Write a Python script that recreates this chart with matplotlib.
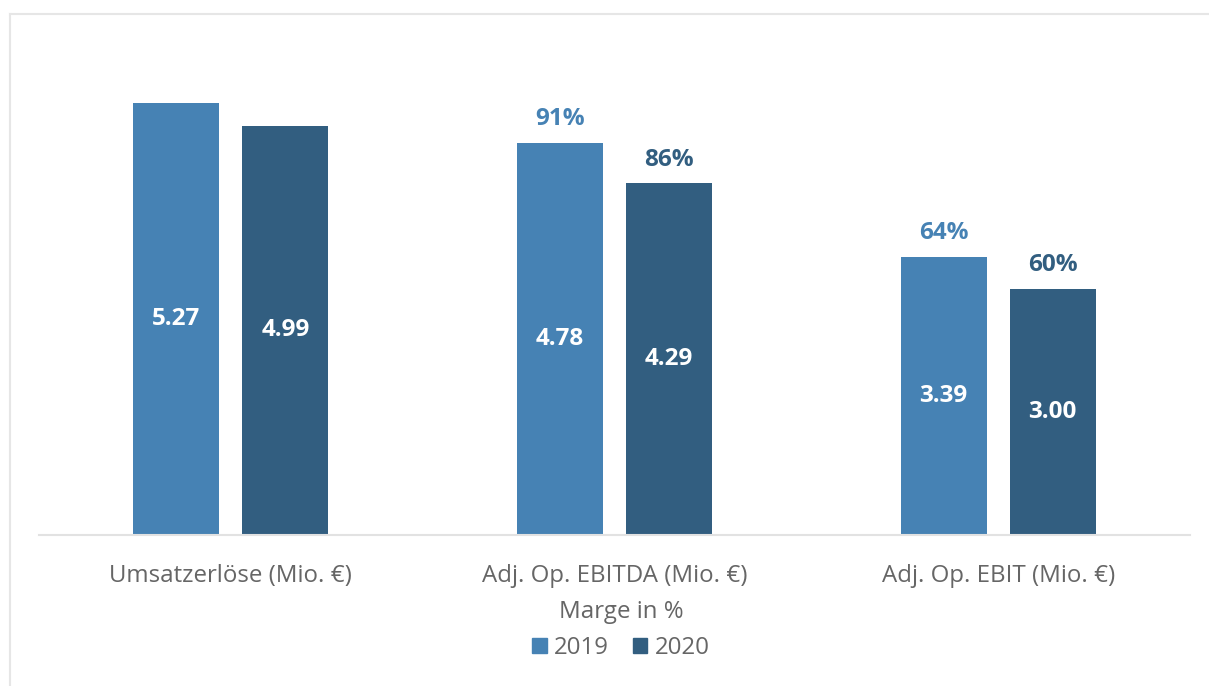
import numpy as np
import matplotlib.pyplot as plt
from matplotlib import font_manager as fm
from matplotlib.lines import Line2D
from matplotlib.patches import Patch

# statische Open-Sans-Schnitte direkt laden
def font_file(name):
    for f in fm.fontManager.ttflist:
        if f.fname.endswith(name):
            return f.fname
    return None

reg_file = font_file('OpenSans-Regular.ttf')
bold_file = font_file('OpenSans-Bold.ttf')

def fp(fname, size):
    if fname:
        return fm.FontProperties(fname=fname, size=size)
    return fm.FontProperties(family='DejaVu Sans', size=size)

# Kennzahlen 2019 / 2020
categories = ['Umsatzerlöse (Mio. €)', 'Adj. Op. EBITDA (Mio. €)', 'Adj. Op. EBIT (Mio. €)']
years = ['2019', '2020']
values_2019 = [5.27, 4.78, 3.39]
values_2020 = [4.99, 4.29, 3.00]
margins_2019 = [None, '91%', '64%']
margins_2020 = [None, '86%', '60%']

c2019 = '#4682b4'
c2020 = '#325e80'
grey_txt = '#666666'
fs_lab = 17.3
fs_val = 17.5

W, H = 1209, 686
fig = plt.figure(figsize=(W / 100, H / 100), dpi=100)
ax = fig.add_axes([39 / W, (H - 535) / H, (1190 - 39) / W, (535 - 43) / H])

x = np.arange(len(categories))
bw = 0.224
off = 0.142
b1 = ax.bar(x - off, values_2019, bw, color=c2019, label=years[0])
b2 = ax.bar(x + off, values_2020, bw, color=c2020, label=years[1])

for bars, vals, margins, col in [(b1, values_2019, margins_2019, c2019),
                                 (b2, values_2020, margins_2020, c2020)]:
    for rect, v, m in zip(bars, vals, margins):
        cx = rect.get_x() + rect.get_width() / 2
        ax.text(cx, v / 2, f'{v:.2f}', ha='center', va='center', color='white',
                fontproperties=fp(bold_file, fs_val))
        if m:
            ax.annotate(m, (cx, v), xytext=(0, 17), textcoords='offset points',
                        ha='center', va='center', color=col, fontproperties=fp(bold_file, fs_val))

ax.set_xlim(-0.5, 2.5)
ax.set_ylim(0, 6)
for s in ['top', 'right', 'left']:
    ax.spines[s].set_visible(False)
ax.spines['bottom'].set_color('#e2e2e2')
ax.spines['bottom'].set_linewidth(1.5)
ax.set_yticks([])
ax.set_xticks(x)
ax.set_xticklabels(categories, color=grey_txt)
for t in ax.get_xticklabels():
    t.set_fontproperties(fp(reg_file, fs_lab))
ax.tick_params(axis='x', length=0, pad=21)

# Rahmen (nur links und oben sichtbar)
fig.add_artist(Line2D([10 / W, 10 / W], [0, (H - 14) / H], color='#e6e6e6', lw=1.5))
fig.add_artist(Line2D([10 / W, 1208 / W], [(H - 14) / H, (H - 14) / H], color='#e6e6e6', lw=1.5))

handles = [Patch(color=c2019), Patch(color=c2020)]
leg = fig.legend(handles, years, loc='center', bbox_to_anchor=(621 / W, (H - 630) / H),
                 ncol=2, frameon=False, title='Marge in %', prop=fp(reg_file, fs_lab),
                 title_fontproperties=fp(reg_file, fs_lab),
                 handlelength=0.6, handleheight=0.6, handletextpad=0.3, columnspacing=1.0,
                 labelspacing=0.5, borderpad=0)
leg.get_title().set_color(grey_txt)
for t in leg.get_texts():
    t.set_color(grey_txt)

fig.savefig('out.png', dpi=100, facecolor='white')
